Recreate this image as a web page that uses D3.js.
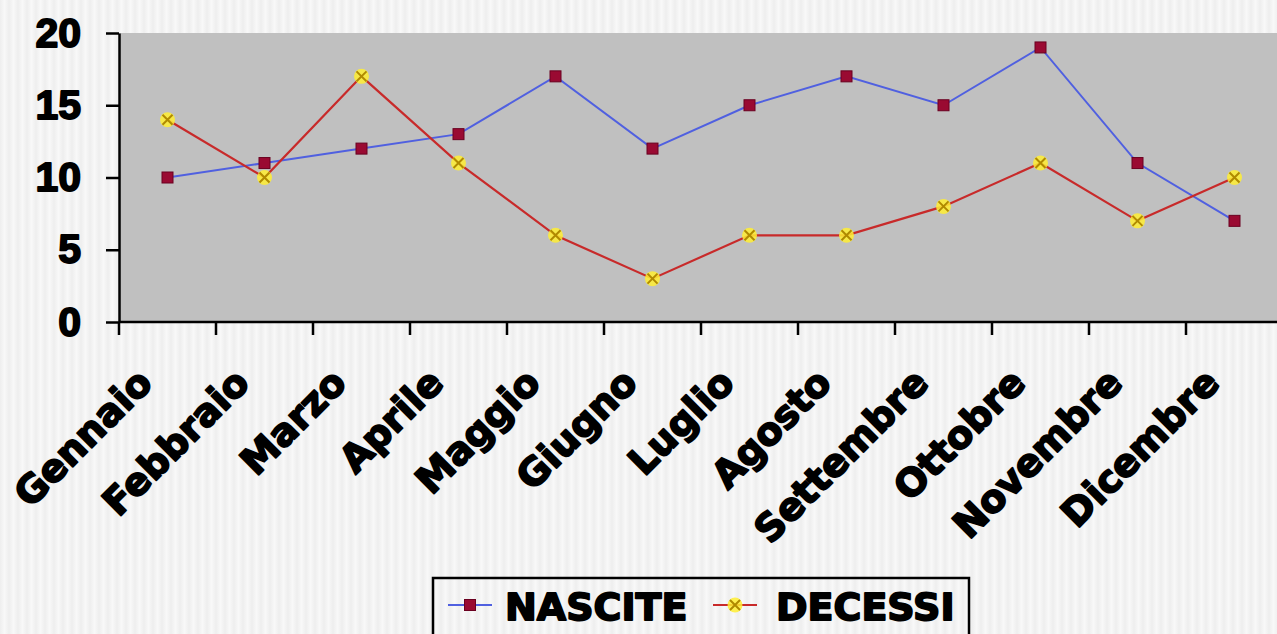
<!DOCTYPE html>
<html>
<head>
<meta charset="utf-8">
<script src="https://cdn.jsdelivr.net/npm/d3@7"></script>
<style>
  html, body { margin: 0; padding: 0; overflow: hidden; }
  svg { display: block; font-family: "DejaVu Sans", Verdana, sans-serif; font-weight: bold; }
</style>
</head>
<body>
<div id="chart"></div>
<script>
// Data
let months = ['Gennaio', 'Febbraio', 'Marzo', 'Aprile', 'Maggio', 'Giugno',
              'Luglio', 'Agosto', 'Settembre', 'Ottobre', 'Novembre', 'Dicembre']
let nascite = [10, 11, 12, 13, 17, 12, 15, 17, 15, 19, 11, 7]
let decessi = [14, 10, 17, 11, 6, 3, 6, 6, 8, 11, 7, 10]
let yTicks = [0, 5, 10, 15, 20]
let seriesNames = ['NASCITE', 'DECESSI']

// Set bounds
let svgWidth = 1277, svgHeight = 634
let margin = { top: 33, left: 119, bottom: 322, right: 1283 }

let svg = d3.select('#chart')
    .append('svg')
    .attr('width', svgWidth)
    .attr('height', svgHeight)

// Striped page background
let defs = svg.append('defs')
let pat = defs.append('pattern')
    .attr('id', 'stripes')
    .attr('patternUnits', 'userSpaceOnUse')
    .attr('width', 9)
    .attr('height', 10)
let grad = defs.append('linearGradient').attr('id', 'stripeGrad')
grad.append('stop').attr('offset', '0%').attr('stop-color', '#eeeeee')
grad.append('stop').attr('offset', '50%').attr('stop-color', '#f8f8f8')
grad.append('stop').attr('offset', '100%').attr('stop-color', '#eeeeee')
pat.append('rect').attr('width', 9).attr('height', 10).attr('fill', 'url(#stripeGrad)')

svg.append('rect')
    .attr('width', svgWidth)
    .attr('height', svgHeight)
    .attr('fill', 'url(#stripes)')

// Scales
let x = d3.scaleBand()
    .domain(months)
    .range([margin.left, margin.right])
let y = d3.scaleLinear()
    .domain([0, 20])
    .range([margin.bottom, margin.top])

// Plot area
svg.append('rect')
    .attr('x', margin.left)
    .attr('y', margin.top)
    .attr('width', margin.right - margin.left)
    .attr('height', margin.bottom - margin.top)
    .attr('fill', '#c0c0c0')

// heavy text look
let heavy = sel => sel
    .attr('fill', '#000')
    .attr('stroke', '#000')
    .attr('stroke-width', 1.8)
    .attr('stroke-linejoin', 'round')

// Y axis
let yAxis = svg.append('g')
    .attr('transform', 'translate(' + margin.left + ',0)')
    .call(d3.axisLeft(y).tickValues(yTicks).tickSize(13).tickPadding(25).tickSizeOuter(0))
yAxis.select('.domain').attr('stroke', '#000').attr('stroke-width', 2.5)
yAxis.selectAll('.tick line').attr('stroke', '#000').attr('stroke-width', 2.5)
yAxis.selectAll('.tick text')
    .call(heavy)
    .style('font-size', '41px')
    .style('font-weight', 'bold')

// X axis: ticks between categories
let xAxis = svg.append('g')
xAxis.append('line')
    .attr('x1', margin.left).attr('x2', margin.right)
    .attr('y1', y(0)).attr('y2', y(0))
    .attr('stroke', '#000').attr('stroke-width', 2.5)
xAxis.selectAll('.xtick')
    .data(months.map(m => x(m)).concat([x.range()[1]]))
    .enter().append('line')
    .attr('x1', d => d).attr('x2', d => d)
    .attr('y1', y(0)).attr('y2', y(0) + 13)
    .attr('stroke', '#000').attr('stroke-width', 2.5)
xAxis.selectAll('.xlabel')
    .data(months)
    .enter().append('text')
    .attr('text-anchor', 'end')
    .attr('transform', d => 'translate(' + (x(d) + x.bandwidth() / 2 - 13) + ',' + 385 + ') rotate(-45)')
    .call(heavy)
    .style('font-size', '38px')
    .text(d => d)

// Line generator
let cx = (d, i) => x(months[i]) + x.bandwidth() / 2
let line = d3.line()
    .x(cx)
    .y(d => y(d))

// NASCITE
svg.append('path')
    .datum(nascite)
    .attr('fill', 'none')
    .attr('stroke', '#5060e0')
    .attr('stroke-width', 2)
    .attr('d', line)

// DECESSI
svg.append('path')
    .datum(decessi)
    .attr('fill', 'none')
    .attr('stroke', '#c82a2a')
    .attr('stroke-width', 2.2)
    .attr('d', line)

// Marker helpers
let squareMarker = (g, px, py) => {
    g.append('rect')
        .attr('x', px - 5.5).attr('y', py - 5.5)
        .attr('width', 11).attr('height', 11)
        .attr('fill', '#9a0a32')
        .attr('stroke', '#6a0020')
        .attr('stroke-width', 1)
}
let crossMarker = (g, px, py) => {
    g.append('circle')
        .attr('cx', px).attr('cy', py).attr('r', 7.5)
        .attr('fill', '#ffee33').attr('opacity', 0.85)
    g.append('path')
        .attr('d', 'M' + (px - 5) + ',' + (py - 5) + 'L' + (px + 5) + ',' + (py + 5) +
                   'M' + (px + 5) + ',' + (py - 5) + 'L' + (px - 5) + ',' + (py + 5))
        .attr('stroke', '#b08a00')
        .attr('stroke-width', 2)
}

let mk1 = svg.append('g')
nascite.forEach((d, i) => squareMarker(mk1, cx(d, i), y(d)))
let mk2 = svg.append('g')
decessi.forEach((d, i) => crossMarker(mk2, cx(d, i), y(d)))

// Legend
let legend = svg.append('g')
legend.append('rect')
    .attr('x', 433).attr('y', 578)
    .attr('width', 536).attr('height', 90)
    .attr('fill', 'none')
    .attr('stroke', '#000')
    .attr('stroke-width', 2.5)

let legendItems = [
    { name: seriesNames[0], color: '#5060e0', marker: squareMarker, x0: 448, tx: 505 },
    { name: seriesNames[1], color: '#c82a2a', marker: crossMarker, x0: 713, tx: 776 }
]
legendItems.forEach(it => {
    legend.append('line')
        .attr('x1', it.x0).attr('x2', it.x0 + 44)
        .attr('y1', 605).attr('y2', 605)
        .attr('stroke', it.color).attr('stroke-width', 2)
    it.marker(legend, it.x0 + 22, 605)
    legend.append('text')
        .attr('x', it.tx).attr('y', 620)
        .call(heavy)
        .style('font-size', '38px')
        .text(it.name)
})
</script>
</body>
</html>
